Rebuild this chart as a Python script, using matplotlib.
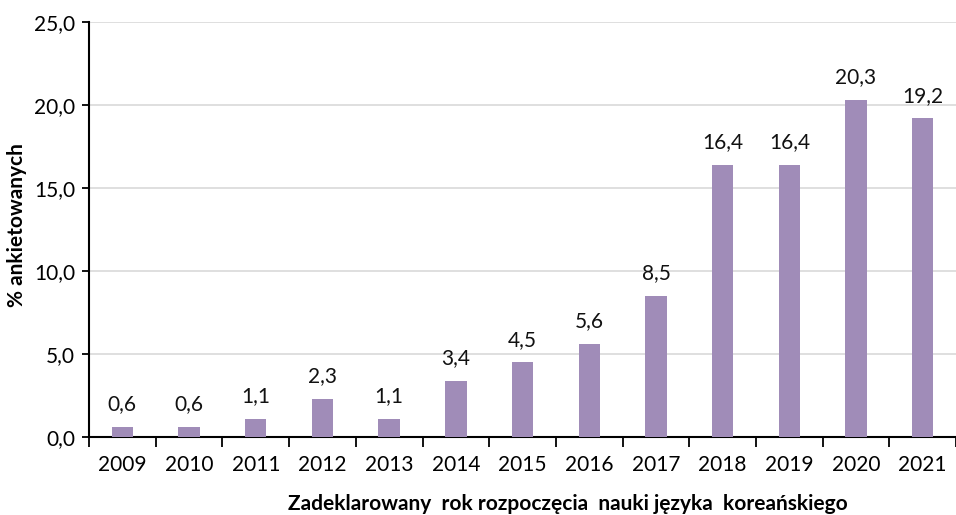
import matplotlib
matplotlib.use("Agg")
import matplotlib.pyplot as plt
from matplotlib.ticker import FuncFormatter, MultipleLocator, FixedLocator
import numpy as np

years = ["2009", "2010", "2011", "2012", "2013", "2014", "2015",
         "2016", "2017", "2018", "2019", "2020", "2021"]
values = [0.6, 0.6, 1.1, 2.3, 1.1, 3.4, 4.5, 5.6, 8.5, 16.4, 16.4, 20.3, 19.2]

BAR = "#A08CB8"
plt.rcParams["font.family"] = ["Lato", "DejaVu Sans"]

fig = plt.figure(figsize=(9.56, 5.15), dpi=100)
ax = fig.add_axes([0.0931, 0.1515, 0.907, 0.806])

x = np.arange(len(years))
ax.bar(x, values, width=0.32, color=BAR, zorder=3)
for xi, v in zip(x, values):
    ax.text(xi, v + 0.75, f"{v:.1f}".replace(".", ","), ha="center", va="bottom",
            fontsize=15, color="#111111")

ax.set_xlim(-0.5, len(years) - 0.5)
ax.set_ylim(0, 25)
ax.yaxis.set_major_locator(MultipleLocator(5))
ax.yaxis.set_major_formatter(FuncFormatter(lambda v, p: f"{v:.1f}".replace(".", ",")))
ax.set_xticks(x)
ax.set_xticklabels(years)
ax.xaxis.set_minor_locator(FixedLocator(np.arange(-0.5, len(years), 1.0)))
ax.tick_params(axis="x", which="major", length=0, labelsize=15, pad=13)
ax.tick_params(axis="x", which="minor", length=7, width=1.3, direction="out")
ax.tick_params(axis="y", length=5, width=1.3, labelsize=15, pad=5)
ax.grid(axis="y", color="#D9D9D9", linewidth=1.2, zorder=0)
for s in ["top", "right"]:
    ax.spines[s].set_visible(False)
ax.spines["left"].set_linewidth(1.5)
ax.spines["bottom"].set_linewidth(1.5)

ax.set_ylabel("% ankietowanych", fontsize=15, fontweight="bold")
ax.yaxis.set_label_coords(-0.0715, 0.51)
ax.set_xlabel("Zadeklarowany  rok rozpoczęcia  nauki języka  koreańskiego",
              fontsize=15, fontweight="bold")
ax.xaxis.set_label_coords(0.552, -0.137)

fig.savefig("out.png", dpi=100)
